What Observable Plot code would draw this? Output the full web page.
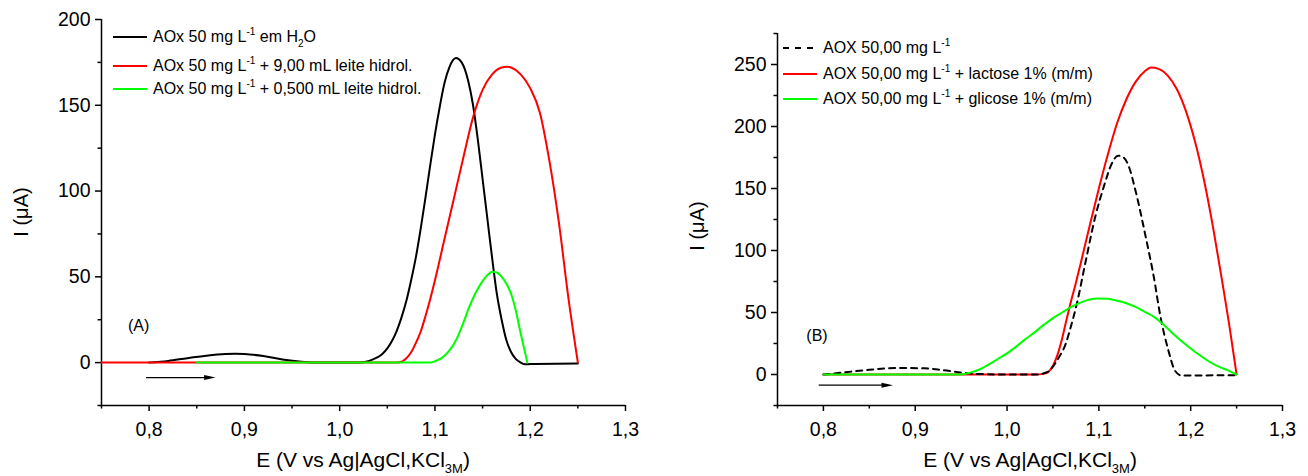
<!DOCTYPE html>
<html>
<head>
<meta charset="utf-8">
<script src="https://cdn.jsdelivr.net/npm/d3@7"></script>
<script src="https://cdn.jsdelivr.net/npm/@observablehq/plot@0.6"></script>
<style>
  html, body { margin: 0; padding: 0; background: #fff; }
  #wrap { position: relative; width: 1308px; height: 476px; overflow: hidden; font-family: "Liberation Sans", Arial, sans-serif; color: #000; }
  #wrap svg.plotsvg { position: absolute; top: 0; }
  .title { position: absolute; line-height: 20px; white-space: nowrap; }
  .leg { position: absolute; display: flex; align-items: center; height: 20px; font-size: 16px; white-space: nowrap; }
  .leg svg { display: block; margin-right: 6px; }
  .sup { font-size: 10px; position: relative; top: -7px; }
  .sub { font-size: 10px; position: relative; top: 5px; }
  .subx { font-size: 13px; position: relative; top: 6px; }
</style>
</head>
<body>
<div id="wrap"></div>
<script>
// ---------- data ----------
const xMajor = [0.8, 0.9, 1.0, 1.1, 1.2, 1.3];
const xMinor = [0.75, 0.85, 0.95, 1.05, 1.15, 1.25];
const yMajorA = [0, 50, 100, 150, 200];
const yMinorA = [-25, 25, 75, 125, 175];
const yMajorB = [0, 50, 100, 150, 200, 250];
const yMinorB = [-25, 25, 75, 125, 175, 225, 275];

// Panel A: [E (V), I (uA)]
const A_h2o = [[0.80,0],[0.82,1],[0.84,2.6],[0.86,4],[0.88,5],[0.89,5.2],[0.90,5],[0.92,3.8],[0.94,1.8],[0.96,0.5],[0.98,0],[1.02,0],[1.03,0.8],[1.035,1.9],[1.04,3.2],[1.045,5.2],[1.05,8.3],[1.055,12.7],[1.06,18.7],[1.065,26.5],[1.07,36],[1.075,48],[1.08,61.5],[1.085,78],[1.09,96],[1.095,115],[1.10,133],[1.105,149],[1.11,163],[1.115,172],[1.122,177.5],[1.128,175],[1.135,164],[1.14,150],[1.145,130],[1.15,107],[1.155,84],[1.16,61],[1.165,40],[1.17,25],[1.175,13],[1.18,6],[1.185,2],[1.19,0],[1.195,-1],[1.20,-0.8],[1.25,-0.5]];
const A_milk900 = [[0.75,0],[1.06,0],[1.065,0.5],[1.07,2.5],[1.075,6],[1.08,11.5],[1.085,18],[1.09,27],[1.095,37],[1.10,48],[1.11,72],[1.12,96],[1.13,120],[1.14,143],[1.15,159],[1.16,168],[1.17,172],[1.176,172.5],[1.18,172],[1.19,168],[1.20,160],[1.21,146],[1.22,118],[1.23,82],[1.24,38],[1.25,0]];
const A_milk050 = [[0.85,0],[1.095,0],[1.10,0.8],[1.105,2],[1.11,4],[1.115,7],[1.12,11],[1.125,16.5],[1.13,23.5],[1.135,31],[1.14,37.5],[1.145,43],[1.15,47.5],[1.155,51],[1.16,53],[1.165,52.5],[1.17,50],[1.175,46],[1.18,40],[1.185,30],[1.19,17],[1.197,0]];

// Panel B
const B_aox = [[0.80,0],[0.82,1.5],[0.85,3.8],[0.88,5.3],[0.91,5],[0.93,3.5],[0.95,1.6],[0.97,0.4],[1.00,0],[1.035,0],[1.04,1],[1.046,3],[1.055,12],[1.064,25],[1.07,40],[1.076,57],[1.085,89],[1.096,127],[1.106,153],[1.114,170],[1.121,176.5],[1.127,175],[1.132,169],[1.14,148],[1.151,111],[1.16,78],[1.167,47],[1.1755,20],[1.183,3],[1.19,-0.8],[1.25,-0.5]];
const B_lactose = [[0.80,0],[1.03,0],[1.04,0.5],[1.045,2],[1.05,7],[1.055,16],[1.06,29],[1.065,45],[1.07,60],[1.075,74],[1.08,89],[1.09,120],[1.10,150],[1.11,178],[1.12,203],[1.13,222],[1.14,236],[1.15,244.5],[1.157,247.5],[1.165,246.5],[1.175,241],[1.185,230],[1.195,212],[1.205,187],[1.215,155],[1.225,116],[1.235,72],[1.242,40],[1.25,0]];
const B_glucose = [[0.80,0],[0.95,0],[0.96,1.5],[0.97,4],[0.98,8],[0.99,12.5],[1.00,17],[1.01,22.5],[1.02,28.5],[1.03,34],[1.04,40],[1.05,45.5],[1.06,50],[1.07,54.5],[1.08,58],[1.09,60.5],[1.10,61.3],[1.11,61],[1.12,59.5],[1.13,57.5],[1.14,54.5],[1.15,50.5],[1.16,46.5],[1.17,40.5],[1.18,33.5],[1.19,27],[1.20,21],[1.21,15.5],[1.22,10.5],[1.23,6.5],[1.24,3.5],[1.25,0]];

// annotations
const arrowA = [{x1: 0.8035, x2: 0.869, y: -8.7}];
const arrowB = [{x1: 0.802, x2: 0.875, y: -8.6}];
const tagA = [{x: 0.789, y: 21.4, text: "(A)"}];
const tagB = [{x: 0.793, y: 31, text: "(B)"}];

const legendA = [
  {color: "#000000", dash: null, html: 'AOx 50 mg L<span class="sup">-1</span> em H<span class="sub">2</span>O'},
  {color: "#ff0000", dash: null, html: 'AOx 50 mg L<span class="sup">-1</span> + 9,00 mL leite hidrol.'},
  {color: "#00ff00", dash: null, html: 'AOx 50 mg L<span class="sup">-1</span> + 0,500 mL leite hidrol.'}
];
const legendB = [
  {color: "#000000", dash: "6,6", html: 'AOX 50,00 mg L<span class="sup">-1</span>'},
  {color: "#ff0000", dash: null, html: 'AOX 50,00 mg L<span class="sup">-1</span> + lactose 1% (m/m)'},
  {color: "#00ff00", dash: null, html: 'AOX 50,00 mg L<span class="sup">-1</span> + glicose 1% (m/m)'}
];

// ---------- drawing ----------
const FONT = '"Liberation Sans", Arial, sans-serif';
const fmtX = d => d.toFixed(1).replace(".", ",");
const headSymbol = {
  draw(ctx, size) {
    const s = Math.sqrt(size);
    ctx.moveTo(s * 0.5, 0);
    ctx.lineTo(-s * 0.5, -s * 0.22);
    ctx.lineTo(-s * 0.5, s * 0.22);
    ctx.closePath();
  }
};

function panel(o) {
  const svg = Plot.plot({
    width: o.width, height: 476,
    marginLeft: o.ml, marginRight: o.mr, marginTop: o.mt, marginBottom: 71,
    x: {domain: [0.75, 1.3]},
    y: {domain: o.yDomain},
    style: {fontFamily: FONT, fontSize: "19.5px", color: "black", background: "transparent", overflow: "visible"},
    marks: [
      Plot.axisX({ticks: xMajor, tickSize: 6, tickPadding: 11, tickFormat: fmtX, label: null, strokeWidth: 1.5}),
      Plot.axisX({ticks: xMinor, tickSize: 3.5, tickFormat: () => "", label: null, strokeWidth: 1.5}),
      Plot.axisY({ticks: o.yMajor, tickSize: 6, tickPadding: 5, tickFormat: d => String(d), label: null, strokeWidth: 1.5}),
      Plot.axisY({ticks: o.yMinor, tickSize: 3.5, tickFormat: () => "", label: null, strokeWidth: 1.5}),
      Plot.ruleY([o.yDomain[0]], {strokeWidth: 1.5}),
      Plot.ruleX([0.75], {strokeWidth: 1.5}),
      ...o.series.map(s => Plot.line(s.data, {
        x: d => d[0], y: d => d[1], stroke: s.color, strokeWidth: 2,
        strokeDasharray: s.dash || undefined, curve: "monotone-x"
      })),
      Plot.ruleY(o.arrow, {x1: "x1", x2: "x2", y: "y", strokeWidth: 1.3, dx: -6}),
      Plot.dot(o.arrow, {x: "x2", y: "y", symbol: headSymbol, r: 6.5, fill: "black", stroke: null, dx: -5}),
      Plot.text(o.tag, {x: "x", y: "y", text: "text", fontSize: 16, textAnchor: "middle"})
    ]
  });
  svg.classList.add("plotsvg");
  svg.style.left = o.left + "px";
  return svg;
}

const wrap = document.getElementById("wrap");
wrap.appendChild(panel({
  left: 0, width: 650, ml: 101, mr: 25, mt: 19,
  yDomain: [-25, 200], yMajor: yMajorA, yMinor: yMinorA,
  series: [
    {data: A_h2o, color: "#000000"},
    {data: A_milk900, color: "#ff0000"},
    {data: A_milk050, color: "#00ff00"}
  ],
  arrow: arrowA, tag: tagA
}));
wrap.appendChild(panel({
  left: 654, width: 654, ml: 123, mr: 26, mt: 33,
  yDomain: [-25, 275], yMajor: yMajorB, yMinor: yMinorB,
  series: [
    {data: B_lactose, color: "#ff0000"},
    {data: B_aox, color: "#000000", dash: "6,5"},
    {data: B_glucose, color: "#00ff00"}
  ],
  arrow: arrowB, tag: tagB
}));

function addLegend(items, x, ys) {
  items.forEach((it, i) => {
    const row = document.createElement("div");
    row.className = "leg";
    row.style.left = x + "px";
    row.style.top = (ys[i] - 10) + "px";
    const dash = it.dash ? ` stroke-dasharray="${it.dash}"` : "";
    row.innerHTML = `<svg width="34" height="4"><line x1="0" y1="2" x2="34" y2="2" stroke="${it.color}" stroke-width="2"${dash}/></svg><span>${it.html}</span>`;
    wrap.appendChild(row);
  });
}
addLegend(legendA, 113, [37, 66, 89]);
addLegend(legendB, 783, [48, 74, 99]);

function addTitle(html, cx, top, size, rotate) {
  const d = document.createElement("div");
  d.className = "title";
  d.innerHTML = html;
  d.style.fontSize = size + "px";
  d.style.left = cx + "px";
  d.style.top = top + "px";
  d.style.transform = rotate ? "translate(-50%,-50%) rotate(-90deg)" : "translateX(-50%)";
  wrap.appendChild(d);
}
const xTitle = 'E (V vs Ag|AgCl,KCl<span class="subx">3M</span>)';
const yTitle = 'I (μA)';
addTitle(xTitle, 363, 450, 21, false);
addTitle(xTitle, 1030, 450, 21, false);
addTitle(yTitle, 21, 212, 20, true);
addTitle(yTitle, 697, 226, 20, true);
</script>
</body>
</html>
